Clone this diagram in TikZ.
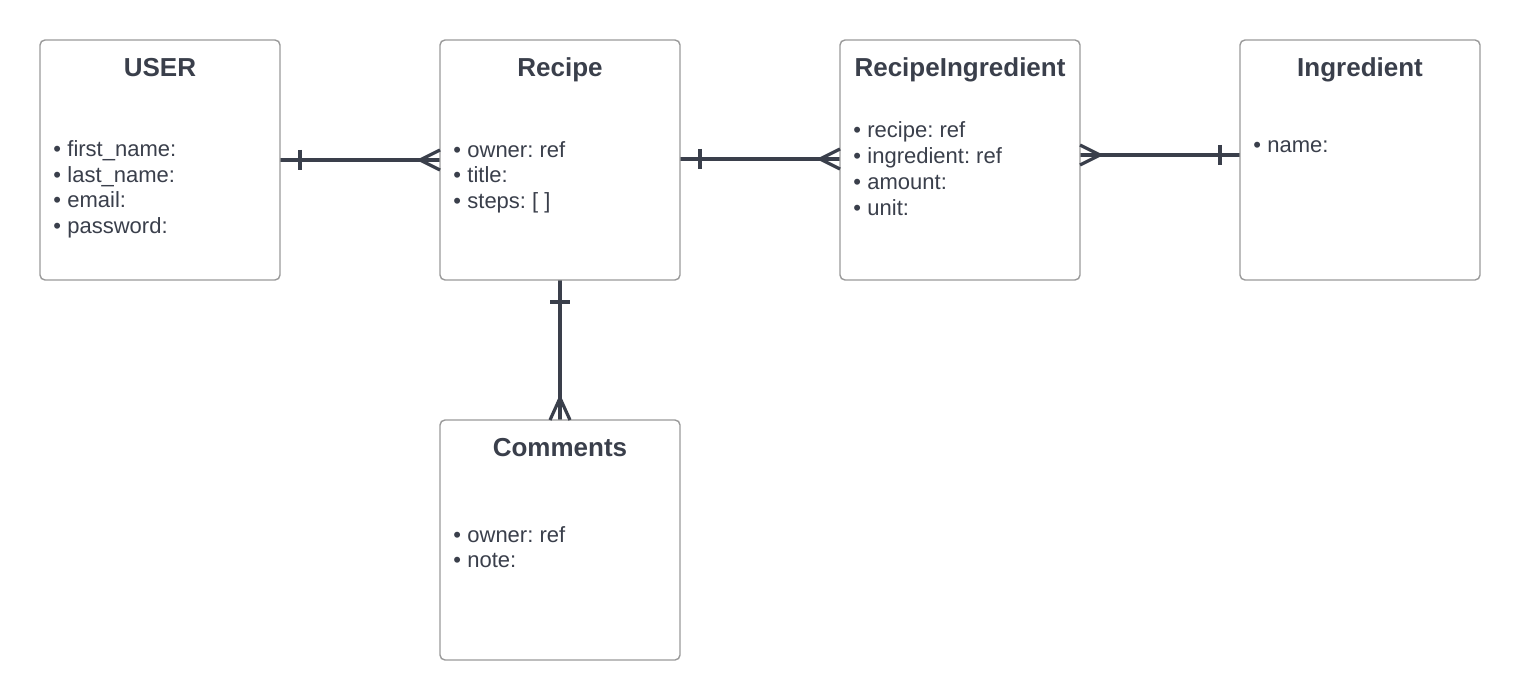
\documentclass[tikz,border=0pt]{standalone}
\usepackage{fontspec}
\setmainfont{Liberation Sans}
\usetikzlibrary{calc}
\definecolor{ink}{HTML}{3A3F4B}
\definecolor{frame}{HTML}{9A9A9A}
\frenchspacing
\begin{document}
\begin{tikzpicture}[x=0.5pt,y=-0.5pt,
  entity/.style={draw=frame, line width=0.7pt, rounded corners=2.5pt, minimum width=120pt, minimum height=120pt, inner sep=0pt, fill=white},
  ttl/.style={anchor=base, inner sep=0pt, text=ink, font=\fontsize{13}{15}\selectfont\bfseries},
  item/.style={anchor=base west, inner sep=0pt, text=ink, font=\fontsize{11}{13}\selectfont\frenchspacing},
  rel/.style={draw=ink, line width=2pt},
  tickmark/.style={draw=ink, line width=1.6pt},
]
\useasboundingbox[fill=white] (0,0) rectangle (1520,700);
\newcommand{\bul}{\makebox[7pt][l]{•}}
% connectors (drawn under boxes)
\draw[rel] (280,160) coordinate (ua) -- (440,160) coordinate (ra);
\draw[rel] (680,159) coordinate (rb) -- (840,159) coordinate (ia);
\draw[rel] (1080,155) coordinate (ib) -- (1240,155) coordinate (ga);
\draw[rel] (560,280) coordinate (rc) -- (560,420) coordinate (ca);
% entities
\node[entity] (user) at (160,160) {};
\node[entity] (recipe) at (560,160) {};
\node[entity] (ri) at (960,160) {};
\node[entity] (ing) at (1360,160) {};
\node[entity] (com) at (560,540) {};
% titles
\node[ttl] (t1) at (160,77) {USER};
\node[ttl] (t2) at (560,77) {Recipe};
\node[ttl] (t3) at (960,77) {RecipeIngredient};
\node[ttl] (t4) at (1360,77) {Ingredient};
\node[ttl] (t5) at (560,456) {Comments};
% items
\node[item] (u1) at (53,157) {\bul first\_name:};
\node[item] (u2) at (53,183) {\bul last\_name:};
\node[item] (u3) at (53,208) {\bul email:};
\node[item] (u4) at (53,234) {\bul password:};
\node[item] (r1) at (453,158) {\bul owner: ref};
\node[item] (r2) at (453,183) {\bul title:};
\node[item] (r3) at (453,209) {\bul steps: [ ]};
\node[item] (i1) at (853,138) {\bul recipe: ref};
\node[item] (i2) at (853,164) {\bul ingredient: ref};
\node[item] (i3) at (853,190) {\bul amount:};
\node[item] (i4) at (853,216) {\bul unit:};
\node[item] (g1) at (1253,153) {\bul name:};
\node[item] (c1) at (453,542) {\bul owner: ref};
\node[item] (c2) at (453,567) {\bul note:};
% markers: one bars
\draw[tickmark] ($(ua)+(20,-10)$) -- ($(ua)+(20,10)$);
\draw[tickmark] ($(rb)+(20,-10)$) -- ($(rb)+(20,10)$);
\draw[tickmark] ($(ga)+(-20,-10)$) -- ($(ga)+(-20,10)$);
\draw[tickmark] ($(rc)+(-10,22)$) -- ($(rc)+(10,22)$);
% markers: crow's feet
\draw[tickmark] ($(ra)+(0,-10)$) -- ($(ra)+(-20,0)$) -- ($(ra)+(0,10)$);
\draw[tickmark] ($(ia)+(0,-10)$) -- ($(ia)+(-20,0)$) -- ($(ia)+(0,10)$);
\draw[tickmark] ($(ib)+(0,-10)$) -- ($(ib)+(20,0)$) -- ($(ib)+(0,10)$);
\draw[tickmark] ($(ca)+(-10,0)$) -- ($(ca)+(0,-22)$) -- ($(ca)+(10,0)$);
\end{tikzpicture}
\end{document}
